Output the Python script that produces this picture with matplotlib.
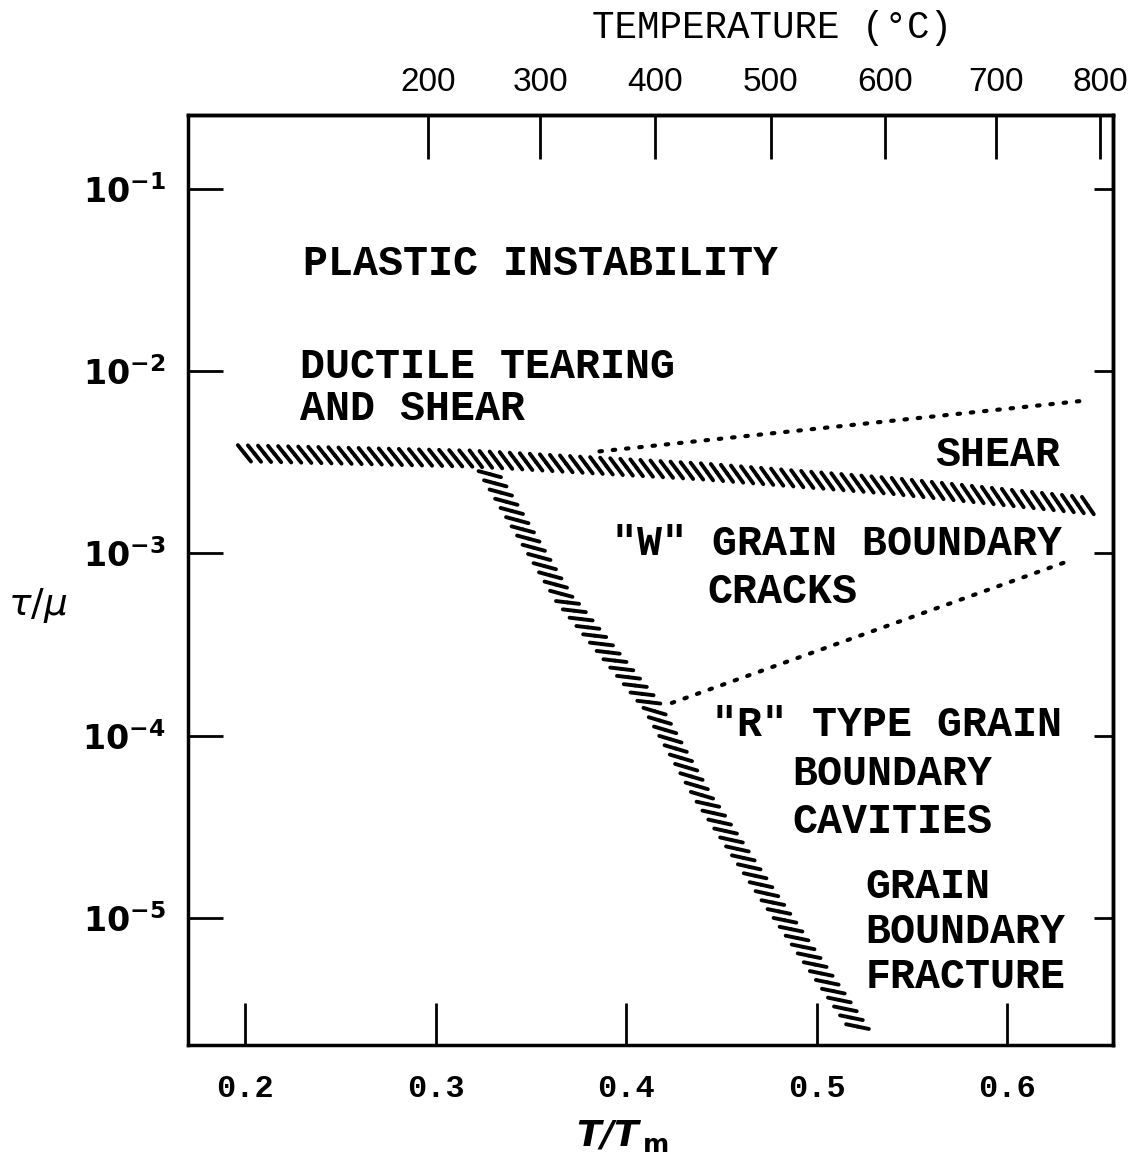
import matplotlib.pyplot as plt
import matplotlib.patheffects as pe
import numpy as np

# bottom axis: homologous temperature T/Tm
tm_ticks = [0.2, 0.3, 0.4, 0.5, 0.6]
tm_labels = ["0.2", "0.3", "0.4", "0.5", "0.6"]

# top axis: temperature in deg C and where each one sits on the T/Tm scale
temp_labels = ["200", "300", "400", "500", "600", "700", "800"]
temp_pos = [0.296, 0.355, 0.415, 0.476, 0.536, 0.594, 0.649]

# stress axis, exponents of tau/mu
stress_exp = [-1, -2, -3, -4, -5]

# mechanism boundaries, given as T/Tm and log10(tau/mu)
shear_x = [0.197, 0.32, 0.44, 0.54, 0.645]
shear_y = [-2.45, -2.48, -2.55, -2.63, -2.74]

gb_x = [0.327, 0.367, 0.413, 0.440, 0.476, 0.523]
gb_y = [-2.54, -3.24, -3.83, -4.33, -4.90, -5.62]

tear_x = [0.386, 0.642]
tear_y = [-2.44, -2.16]

wcrack_x = [0.424, 0.630]
wcrack_y = [-3.82, -3.05]

# field names: text, T/Tm of left edge, log10(tau/mu) of baseline
fields = [
    ("PLASTIC INSTABILITY", 0.2304, -1.472),
    ("DUCTILE TEARING", 0.2289, -2.037),
    ("AND SHEAR", 0.2289, -2.267),
    ("SHEAR", 0.5622, -2.520),
    ('"W" GRAIN BOUNDARY', 0.3927, -3.008),
    ("CRACKS", 0.4425, -3.272),
    ('"R" TYPE GRAIN', 0.4451, -4.001),
    ("BOUNDARY", 0.4871, -4.270),
    ("CAVITIES", 0.4871, -4.534),
    ("GRAIN", 0.5255, -4.890),
    ("BOUNDARY", 0.5255, -5.137),
    ("FRACTURE", 0.5255, -5.384),
]

LETTER = "Liberation Mono"


def hatched(ax, x, y, angle, spacing, length, lw):
    # draw a boundary as a row of short strokes crossing the path
    line, = ax.plot(x, 10.0 ** np.array(y), color="black", lw=lw,
                    solid_capstyle="round")
    line.set_path_effects([
        pe.TickedStroke(angle=angle, spacing=spacing, length=length),
        pe.TickedStroke(angle=angle - 180, spacing=spacing, length=length),
    ])


def dotted(ax, x, y):
    ax.plot(x, 10.0 ** np.array(y), color="black", lw=3,
            linestyle=(0, (0.6, 2.6)), dash_capstyle="round")


fig = plt.figure(figsize=(11.47, 11.66), dpi=100)
ax = fig.add_axes([0.1639, 0.1038, 0.8065, 0.7976])

ax.set_yscale("log")
ax.set_xlim(0.170, 0.6556)
ax.set_ylim(10 ** -5.697, 10 ** -0.594)

hatched(ax, shear_x, shear_y, -50, 7.2, 1.05, 2.8)
hatched(ax, gb_x, gb_y, 44, 7.6, 1.1, 2.8)
dotted(ax, tear_x, tear_y)
dotted(ax, wcrack_x, wcrack_y)

for text, x, y in fields:
    ax.text(x, 10.0 ** y, text, ha="left", va="baseline",
            fontsize=30, family=LETTER, weight="bold")

# axes frame and ticks
for s in ax.spines.values():
    s.set_linewidth(2.5)

ax.minorticks_off()
ax.set_xticks(tm_ticks, labels=tm_labels)
ax.set_yticks([10.0 ** e for e in stress_exp],
              labels=[r"$\mathbf{10^{%d}}$" % e for e in stress_exp])
ax.tick_params(axis="x", direction="in", length=30, width=2, pad=21,
               top=False)
ax.tick_params(axis="y", direction="in", length=25, width=2, pad=16,
               right=False, labelsize=24)
for lab in ax.get_xticklabels():
    lab.set_fontsize(23)
    lab.set_family(LETTER)
    lab.set_weight("bold")

top = ax.secondary_xaxis("top")
top.set_xticks(temp_pos, labels=temp_labels)
top.tick_params(direction="in", length=32, width=2, pad=12)
top.spines["top"].set_linewidth(2.5)
for lab in top.get_xticklabels():
    lab.set_fontsize(24)
    lab.set_family("Liberation Sans")
top.set_xlabel("TEMPERATURE (°C)", fontsize=27, family=LETTER, labelpad=21)
top.xaxis.label.set_x(0.631)

right = ax.secondary_yaxis("right")
right.set_yticks([10.0 ** e for e in stress_exp], labels=[""] * len(stress_exp))
right.minorticks_off()
right.tick_params(direction="in", length=14, width=2)
right.spines["right"].set_linewidth(2.5)

ax.set_xlabel(r"$\mathbfit{T/T}_{\,\mathbf{m}}$", fontsize=26)
ax.xaxis.set_label_coords(0.47, -0.078)
ax.xaxis.label.set_va("top")
ax.set_ylabel(r"$\tau/\mu$", fontsize=27, rotation=0, va="center",
              ha="center")
ax.yaxis.set_label_coords(-0.162, 0.473)

fig.savefig("out.png", dpi=100)
